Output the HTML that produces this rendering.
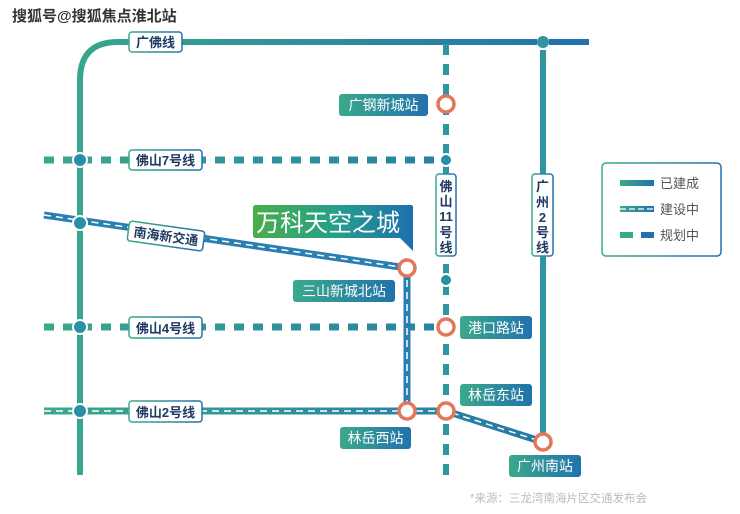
<!DOCTYPE html>
<html><head><meta charset="utf-8"><style>
html,body{margin:0;padding:0;background:#fff;}
svg{display:block;}
text{font-family:"Liberation Sans","Noto Sans CJK SC",sans-serif;}
</style></head><body>
<svg width="740" height="514" viewBox="0 0 740 514" xmlns="http://www.w3.org/2000/svg">
<defs>
<linearGradient id="gh" x1="0" y1="0" x2="1" y2="0"><stop offset="0" stop-color="#3aa98b"/><stop offset="1" stop-color="#2272ad"/></linearGradient>
<linearGradient id="gl" gradientUnits="userSpaceOnUse" x1="40" y1="0" x2="600" y2="0"><stop offset="0" stop-color="#3aa98b"/><stop offset="1" stop-color="#2272ad"/></linearGradient>
<linearGradient id="glg" gradientUnits="userSpaceOnUse" x1="620" y1="0" x2="654" y2="0"><stop offset="0" stop-color="#3aa98b"/><stop offset="1" stop-color="#2272ad"/></linearGradient>
<linearGradient id="gv" x1="0" y1="0" x2="1" y2="0"><stop offset="0" stop-color="#4aae4a"/><stop offset="0.5" stop-color="#25a08a"/><stop offset="1" stop-color="#1f6fae"/></linearGradient>
</defs>
<text x="12" y="21" font-size="15" font-weight="bold" fill="#333" stroke="#fff" stroke-width="0.6" paint-order="stroke">搜狐号@搜狐焦点淮北站</text>

<path d="M80,475 V80 Q80,42 118,42 H537" fill="none" stroke="url(#gl)" stroke-width="6"/>
<line x1="549" y1="42" x2="589" y2="42" stroke="#2272ad" stroke-width="6"/>
<line x1="543" y1="50" x2="543" y2="442" stroke="#2f95a0" stroke-width="6"/>
<circle cx="543" cy="42" r="6" fill="#2f95a0"/>

<line x1="44" y1="160" x2="440" y2="160" stroke="url(#gl)" stroke-width="7" stroke-dasharray="10 9"/>
<line x1="44" y1="327" x2="440" y2="327" stroke="url(#gl)" stroke-width="7" stroke-dasharray="10 9"/>
<line x1="446" y1="44" x2="446" y2="475" stroke="#2f95a0" stroke-width="6" stroke-dasharray="11 9"/>

<line x1="44" y1="215" x2="407" y2="268" stroke="#2a7fb0" stroke-width="7"/>
<line x1="44" y1="215" x2="407" y2="268" stroke="#fff" stroke-width="1.5" stroke-dasharray="7 5"/>
<line x1="407" y1="268" x2="407" y2="411" stroke="#2a7fb0" stroke-width="7"/>
<line x1="407" y1="268" x2="407" y2="411" stroke="#fff" stroke-width="1.5" stroke-dasharray="7 5"/>
<polyline points="44,411 446,411 543,442" fill="none" stroke="url(#gl)" stroke-width="7"/>
<polyline points="44,411 446,411 543,442" fill="none" stroke="#fff" stroke-width="1.5" stroke-dasharray="7 5"/>

<g fill="#2a8fa6" stroke="#fff" stroke-width="2">
<circle cx="80" cy="160" r="7"/><circle cx="80" cy="223" r="7"/><circle cx="80" cy="327" r="7"/><circle cx="80" cy="411" r="7"/>
<circle cx="446" cy="160" r="6"/><circle cx="446" cy="280" r="6"/>
</g>
<g fill="#fff" stroke="#e2775a" stroke-width="3.5">
<circle cx="446" cy="104" r="8"/><circle cx="407" cy="268" r="8"/><circle cx="446" cy="327" r="8"/>
<circle cx="407" cy="411" r="8"/><circle cx="446" cy="411" r="8"/><circle cx="543" cy="442" r="8"/>
</g>

<g font-size="13" fill="#1f3a63" font-weight="bold">
<rect x="129" y="32" width="53" height="20" rx="3" fill="#fff" stroke="url(#gh)" stroke-width="1.5"/>
<text x="155.5" y="47" text-anchor="middle">广佛线</text>
<rect x="129" y="150" width="73" height="20" rx="3" fill="#fff" stroke="url(#gh)" stroke-width="1.5"/>
<text x="165.5" y="165" text-anchor="middle">佛山7号线</text>
<rect x="129" y="317" width="73" height="21" rx="3" fill="#fff" stroke="url(#gh)" stroke-width="1.5"/>
<text x="165.5" y="333" text-anchor="middle">佛山4号线</text>
<rect x="129" y="401" width="73" height="21" rx="3" fill="#fff" stroke="url(#gh)" stroke-width="1.5"/>
<text x="165.5" y="417" text-anchor="middle">佛山2号线</text>
<g transform="rotate(8 166 236)">
<rect x="128" y="226" width="76" height="20" rx="3" fill="#fff" stroke="url(#gh)" stroke-width="1.5"/>
<text x="166" y="241" text-anchor="middle">南海新交通</text>
</g>
<rect x="436" y="174" width="20" height="82" rx="3" fill="#fff" stroke="url(#gh)" stroke-width="1.5"/>
<text x="446" y="191" text-anchor="middle">佛</text><text x="446" y="206" text-anchor="middle">山</text>
<text x="446" y="221" text-anchor="middle">11</text><text x="446" y="237" text-anchor="middle">号</text><text x="446" y="252" text-anchor="middle">线</text>
<rect x="532" y="174" width="21" height="82" rx="3" fill="#fff" stroke="url(#gh)" stroke-width="1.5"/>
<text x="542.5" y="191" text-anchor="middle">广</text><text x="542.5" y="207" text-anchor="middle">州</text>
<text x="542.5" y="222" text-anchor="middle">2</text><text x="542.5" y="237" text-anchor="middle">号</text><text x="542.5" y="252" text-anchor="middle">线</text>
</g>

<g font-size="14" fill="#fff">
<rect x="339" y="94" width="89" height="22" rx="3" fill="url(#gh)"/><text x="383.5" y="110" text-anchor="middle">广钢新城站</text>
<rect x="293" y="280" width="102" height="22" rx="3" fill="url(#gh)"/><text x="344" y="296" text-anchor="middle">三山新城北站</text>
<rect x="460" y="316" width="72" height="23" rx="3" fill="url(#gh)"/><text x="496" y="333" text-anchor="middle">港口路站</text>
<rect x="460" y="384" width="72" height="22" rx="3" fill="url(#gh)"/><text x="496" y="400" text-anchor="middle">林岳东站</text>
<rect x="340" y="427" width="71" height="22" rx="3" fill="url(#gh)"/><text x="375.5" y="443" text-anchor="middle">林岳西站</text>
<rect x="509" y="455" width="72" height="22" rx="3" fill="url(#gh)"/><text x="545" y="471" text-anchor="middle">广州南站</text>
</g>

<path d="M256,205 H411 Q413,205 413,207 V251 L400,238 H256 Q253,238 253,235 V208 Q253,205 256,205 Z" fill="url(#gv)"/>
<text x="328" y="231" text-anchor="middle" font-size="24" fill="#fff">万科天空之城</text>

<rect x="602" y="163" width="119" height="93" rx="4" fill="#fff" stroke="url(#gh)" stroke-width="1.5"/>
<line x1="620" y1="183" x2="654" y2="183" stroke="url(#glg)" stroke-width="6"/>
<line x1="620" y1="209" x2="654" y2="209" stroke="url(#glg)" stroke-width="6"/>
<line x1="620" y1="209" x2="654" y2="209" stroke="#fff" stroke-width="1.2" stroke-dasharray="6 3"/>
<line x1="620" y1="235" x2="633" y2="235" stroke="#3aa98b" stroke-width="6"/>
<line x1="641" y1="235" x2="654" y2="235" stroke="#2272ad" stroke-width="6"/>
<g font-size="13" fill="#555"><text x="660" y="188">已建成</text><text x="660" y="214">建设中</text><text x="660" y="240">规划中</text></g>

<text x="470" y="502" font-size="11.5" fill="#bbb">*来源：三龙湾南海片区交通发布会</text>
</svg>
</body></html>
